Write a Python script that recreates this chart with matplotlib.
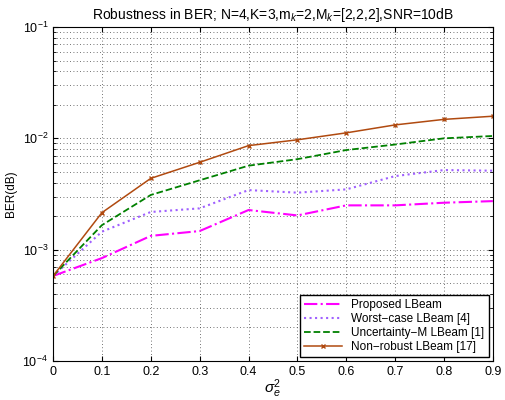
import numpy as np
import matplotlib
matplotlib.use('Agg')
import matplotlib.pyplot as plt
from matplotlib.ticker import LogLocator, NullFormatter

plt.rcParams['font.family'] = ['Liberation Sans', 'DejaVu Sans']
plt.rcParams['mathtext.fontset'] = 'custom'
plt.rcParams['mathtext.rm'] = 'Liberation Sans'
plt.rcParams['mathtext.it'] = 'Liberation Sans:italic'

sigma2 = [0, 0.1, 0.2, 0.3, 0.4, 0.5, 0.6, 0.7, 0.8, 0.9]
proposed = [5.8e-4, 8.4e-4, 1.33e-3, 1.47e-3, 2.27e-3, 2.03e-3, 2.5e-3, 2.5e-3, 2.64e-3, 2.73e-3]
worst_case = [5.8e-4, 1.45e-3, 2.18e-3, 2.35e-3, 3.43e-3, 3.25e-3, 3.48e-3, 4.58e-3, 5.19e-3, 5.12e-3]
uncert_m = [5.8e-4, 1.66e-3, 3.1e-3, 4.2e-3, 5.68e-3, 6.5e-3, 7.85e-3, 8.8e-3, 1.0e-2, 1.05e-2]
non_robust = [5.8e-4, 2.15e-3, 4.37e-3, 6.09e-3, 8.6e-3, 9.7e-3, 1.12e-2, 1.32e-2, 1.48e-2, 1.58e-2]
labels = ['Proposed LBeam', 'Worst\u2212case LBeam [4]', 'Uncertainty\u2212M LBeam [1]', 'Non\u2212robust LBeam [17]']

fig = plt.figure(figsize=(5.05, 4.0), dpi=100)
ax = fig.add_axes([0.105, 0.0975, 0.871, 0.835])

ax.semilogy(sigma2, proposed, '-.', color='#ff00ff', linewidth=1.5, label=labels[0])
ax.semilogy(sigma2, worst_case, ':', color='#a060ff', linewidth=1.5, label=labels[1])
ax.semilogy(sigma2, uncert_m, '--', color='#008000', linewidth=1.3, label=labels[2])
ax.semilogy(sigma2, non_robust, '-', color='#b04a10', linewidth=1.1, marker='x', markersize=3, label=labels[3])

ax.set_xlim(0, 0.9)
ax.set_ylim(1e-4, 1e-1)
ax.set_xticks(sigma2)
ax.set_xticklabels([('%g' % v) for v in sigma2])
ax.yaxis.set_major_locator(LogLocator(base=10, numticks=10))
ax.yaxis.set_minor_locator(LogLocator(base=10, subs=np.arange(2, 10), numticks=10))
ax.yaxis.set_minor_formatter(NullFormatter())
grid_style = dict(linestyle=(0, (1, 3)), color='#444444', linewidth=0.6)
ax.grid(True, which='major', **grid_style)
ax.grid(True, which='minor', axis='y', **grid_style)
ax.tick_params(which='both', direction='in', labelsize=9, top=True, right=True)

ax.set_title('Robustness in BER; N=4,K=3,m$_k$=2,M$_k$=[2,2,2],SNR=10dB', fontsize=10)
ax.set_ylabel('BER(dB)', fontsize=8.5)
ax.set_xlabel(r'$\sigma_e^2$', fontsize=11, labelpad=0)
ax.legend(loc='lower right', fontsize=8.5, fancybox=False, edgecolor='black',
          framealpha=1, borderaxespad=0.3, handlelength=3.2, labelspacing=0.15)

plt.savefig('out.png', dpi=100)
